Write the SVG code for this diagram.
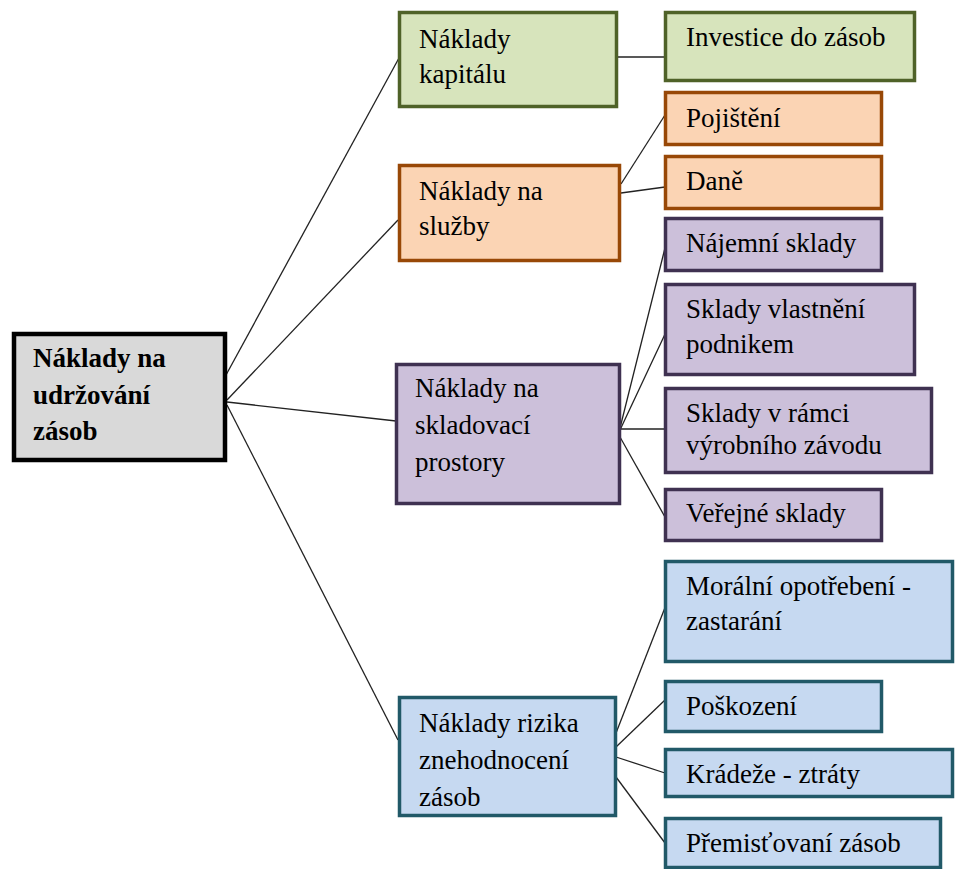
<svg xmlns="http://www.w3.org/2000/svg" width="956" height="869" viewBox="0 0 956 869">
<style>
text{font-family:"Liberation Serif","Times New Roman",serif;font-size:27px;fill:#000}
.root rect{fill:#d9d9d9;stroke:#000;stroke-width:4.5}
.root text{font-weight:bold}
.g rect{fill:#d7e4bc;stroke:#4f6228;stroke-width:3.5}
.o rect{fill:#fbd4b4;stroke:#984807;stroke-width:3.5}
.p rect{fill:#ccc0da;stroke:#3f3151;stroke-width:3.5}
.b rect{fill:#c6d9f1;stroke:#215968;stroke-width:3.5}
#connectors line{stroke:#222;stroke-width:1.3}
</style>
<rect width="956" height="869" fill="#fff"/>
<g id="connectors">
<line x1="226" y1="375" x2="399" y2="58"/>
<line x1="227" y1="400" x2="398" y2="220"/>
<line x1="227" y1="402" x2="396" y2="421"/>
<line x1="227" y1="405" x2="398" y2="740"/>
<line x1="618" y1="57" x2="665" y2="57"/>
<line x1="621" y1="184" x2="665" y2="115"/>
<line x1="621" y1="193" x2="665" y2="187"/>
<line x1="620" y1="428" x2="666" y2="244"/>
<line x1="620" y1="430" x2="666" y2="332"/>
<line x1="620" y1="429" x2="665" y2="429"/>
<line x1="620" y1="437" x2="665" y2="517"/>
<line x1="616" y1="733" x2="666" y2="605"/>
<line x1="616" y1="747" x2="665" y2="700"/>
<line x1="616" y1="757" x2="665" y2="773"/>
<line x1="616" y1="777" x2="665" y2="843"/>
</g>
<g id="root" class="root"><rect x="14" y="334" width="211" height="126"/><text x="33" y="367">Náklady na</text><text x="33" y="404">udržování</text><text x="33" y="440">zásob</text></g>
<g id="kapital" class="g"><rect x="399.5" y="12.5" width="217" height="94"/><text x="419" y="48">Náklady</text><text x="419" y="83">kapitálu</text></g>
<g id="investice" class="g"><rect x="665.5" y="12.5" width="249" height="68"/><text x="686" y="46">Investice do zásob</text></g>
<g id="sluzby" class="o"><rect x="399.5" y="165.5" width="220" height="95"/><text x="419" y="200">Náklady na</text><text x="419" y="235">služby</text></g>
<g id="pojisteni" class="o"><rect x="665.5" y="92.5" width="216" height="52"/><text x="686" y="127">Pojištění</text></g>
<g id="dane" class="o"><rect x="665.5" y="156.5" width="216" height="52"/><text x="686" y="190">Daně</text></g>
<g id="skladovaci" class="p"><rect x="396.5" y="364.5" width="223" height="139"/><text x="415" y="397">Náklady na</text><text x="415" y="434">skladovací</text><text x="415" y="471">prostory</text></g>
<g id="najemni" class="p"><rect x="665.5" y="218.5" width="216" height="52"/><text x="686" y="252">Nájemní sklady</text></g>
<g id="vlastneni" class="p"><rect x="665.5" y="284.5" width="249" height="90"/><text x="686" y="318">Sklady vlastnění</text><text x="686" y="353">podnikem</text></g>
<g id="ramci" class="p"><rect x="665.5" y="388.5" width="266" height="84"/><text x="686" y="422">Sklady v rámci</text><text x="686" y="454">výrobního závodu</text></g>
<g id="verejne" class="p"><rect x="665.5" y="489.5" width="216" height="51"/><text x="686" y="522">Veřejné sklady</text></g>
<g id="rizika" class="b"><rect x="399.5" y="697.5" width="216" height="118"/><text x="419" y="732">Náklady rizika</text><text x="419" y="769">znehodnocení</text><text x="419" y="806">zásob</text></g>
<g id="moralni" class="b"><rect x="665.5" y="561.5" width="287" height="100"/><text x="686" y="595">Morální opotřebení -</text><text x="686" y="630">zastarání</text></g>
<g id="poskozeni" class="b"><rect x="665.5" y="681.5" width="216" height="50"/><text x="686" y="715">Poškození</text></g>
<g id="kradeze" class="b"><rect x="665.5" y="749.5" width="287" height="47"/><text x="686" y="783">Krádeže - ztráty</text></g>
<g id="premistovani" class="b"><rect x="665.5" y="818.5" width="275" height="49"/><text x="686" y="852">Přemisťovaní zásob</text></g>
</svg>
